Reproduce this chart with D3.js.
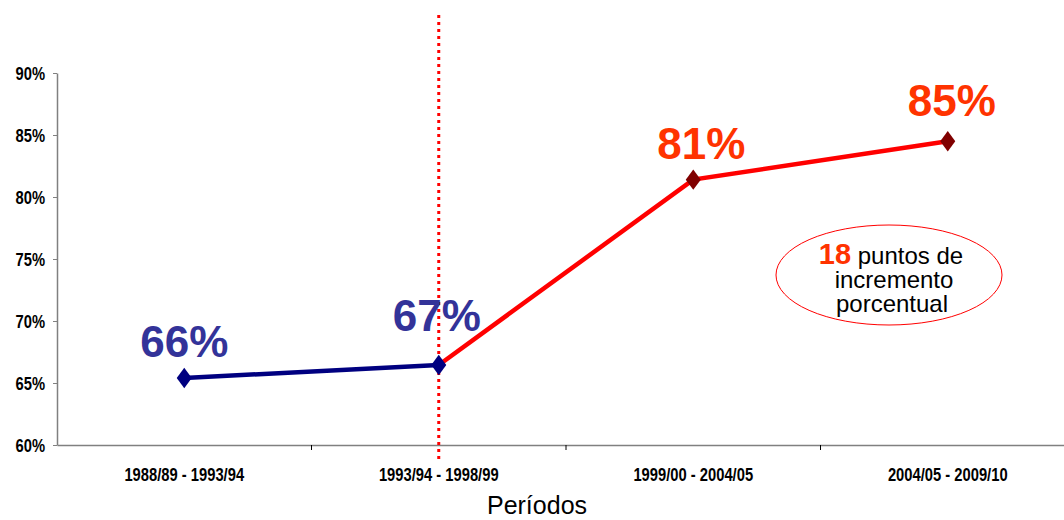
<!DOCTYPE html>
<html><head><meta charset="utf-8">
<script src="https://cdn.jsdelivr.net/npm/d3@7"></script>
<style>body{margin:0;background:#fff}svg{display:block}</style>
</head><body>
<svg id="c" width="1064" height="520"></svg>
<script>
const categories = ["1988/89 - 1993/94","1993/94 - 1998/99","1999/00 - 2004/05","2004/05 - 2009/10"];
const values = [65.4, 66.45, 81.4, 84.5];
const labels = ["66%","67%","81%","85%"];
const yTicks = [60,65,70,75,80,85,90];

(function(){
const svg = d3.select("#c");
const mLeft = 57, mRight = 1075, mTop = 73, mBottom = 445;
const x = d3.scaleBand().domain(categories).range([mLeft, mRight]);
const y = d3.scaleLinear().domain([60, 90]).range([mBottom, mTop]);
const cx = d => x(d) + x.bandwidth()/2;
const font = "'Liberation Sans',Arial,sans-serif";

// y axis
const ya = svg.append("g").attr("transform",`translate(${mLeft},0)`)
  .call(d3.axisLeft(y).tickValues(yTicks).tickFormat(d=>d+"%").tickSize(4).tickSizeOuter(0));
ya.select(".domain").attr("stroke","#808080").attr("stroke-width",1.5);
ya.selectAll(".tick line").attr("stroke","#808080");
ya.selectAll(".tick text").attr("font-family",font).attr("font-weight","bold").attr("font-size",18)
  .attr("fill","#000").attr("x",0).attr("dy","0.34em").attr("transform","translate(-12,0) scale(0.82,1)");

// x axis
const xa = svg.append("g").attr("transform",`translate(0,${mBottom})`)
  .call(d3.axisBottom(x).tickSize(0).tickSizeOuter(0));
xa.select(".domain").attr("stroke","#808080").attr("stroke-width",1.5);
xa.selectAll(".tick text").attr("font-family",font).attr("font-weight","bold").attr("font-size",18)
  .attr("fill","#000").attr("dy","0").attr("y",0).attr("transform","translate(0,36) scale(0.82,1)");
// band boundary ticks
svg.append("g").selectAll("line").data(categories.slice(1)).join("line")
  .attr("x1",d=>x(d)).attr("x2",d=>x(d)).attr("y1",mBottom).attr("y2",mBottom+5)
  .attr("stroke","#000").attr("stroke-width",1);

// dotted divider
svg.append("line").attr("x1",cx(categories[1])).attr("x2",cx(categories[1]))
  .attr("y1",15).attr("y2",mBottom+18).attr("stroke","#ff0000").attr("stroke-width",3).attr("stroke-dasharray","3,4");

const line = d3.line().x(d=>cx(d.c)).y(d=>y(d.v));
const pts = categories.map((c,i)=>({c,v:values[i]}));
svg.append("path").attr("d",line(pts.slice(1))).attr("fill","none").attr("stroke","#ff0000").attr("stroke-width",4.5);
svg.append("path").attr("d",line(pts.slice(0,2))).attr("fill","none").attr("stroke","#000080").attr("stroke-width",4.5);

// markers
svg.append("g").selectAll("path").data(pts).join("path")
  .attr("d",d3.symbol(d3.symbolDiamond2, 200)())
  .attr("transform",d=>`translate(${cx(d.c)},${y(d.v)}) scale(0.85,1.15)`)
  .attr("fill",(d,i)=>i<2?"#000080":"#800000");

// value labels
const lblOff = [[0,-21],[-2,-34],[8,-21],[4,-25]];
svg.append("g").selectAll("text").data(pts).join("text")
  .attr("x",(d,i)=>cx(d.c)+lblOff[i][0]).attr("y",(d,i)=>y(d.v)+lblOff[i][1])
  .attr("text-anchor","middle").attr("font-family",font)
  .attr("font-weight","bold").attr("font-size",44)
  .attr("fill",(d,i)=>i<2?"#333399":"#ff3300").text((d,i)=>labels[i]);

// annotation ellipse
svg.append("ellipse").attr("cx",889).attr("cy",275).attr("rx",113).attr("ry",50)
  .attr("fill","none").attr("stroke","#ff0000").attr("stroke-width",1);
const ann = svg.append("text").attr("text-anchor","middle").attr("font-family",font).attr("font-size",24).attr("fill","#000");
const t1 = ann.append("tspan").attr("x",891).attr("y",264);
t1.append("tspan").attr("font-weight","bold").attr("font-size",29).attr("fill","#ff3300").text("18");
t1.append("tspan").text(" puntos de");
ann.append("tspan").attr("x",894).attr("y",288).text("incremento");
ann.append("tspan").attr("x",892).attr("y",312).text("porcentual");

// x title
svg.append("text").attr("x",537).attr("y",514).attr("text-anchor","middle")
  .attr("font-family",font).attr("font-size",25).attr("fill","#000").text("Períodos");
})();
</script>
</body></html>
